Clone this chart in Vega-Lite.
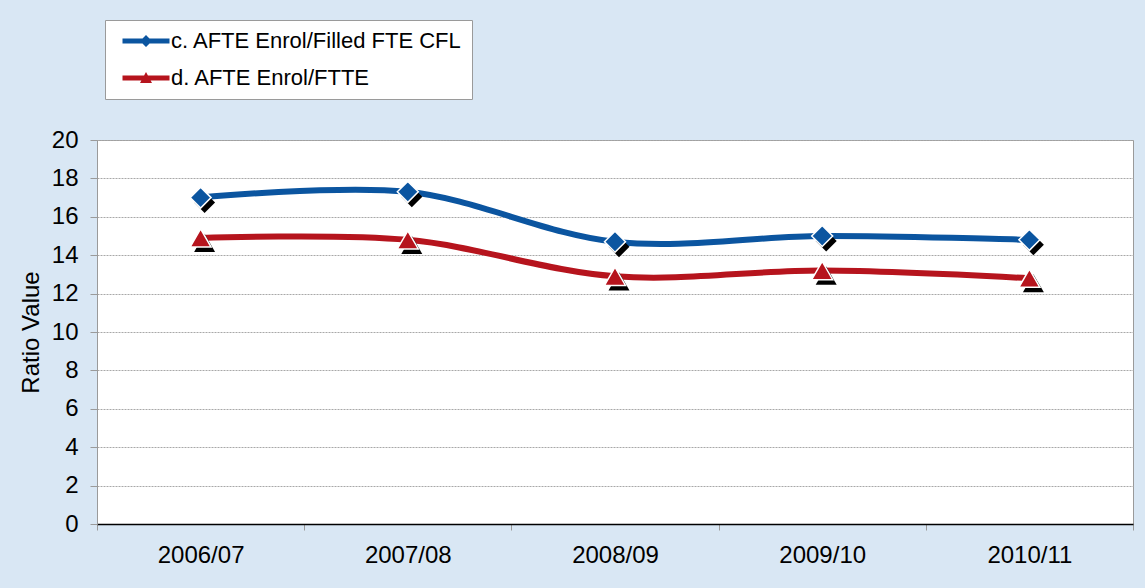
{
  "$schema": "https://vega.github.io/schema/vega-lite/v6.json",
  "autosize": "none",
  "width": 1036,
  "height": 384,
  "padding": {"left": 97, "top": 140, "right": 12, "bottom": 64},
  "background": "#d9e7f4",
  "config": {
    "font": "Liberation Sans",
    "view": {"fill": "white", "stroke": "#9a9a9a", "strokeWidth": 1}
  },
  "data": {
    "values": [
      {"year": "2006/07", "series": "c. AFTE Enrol/Filled FTE CFL", "value": 17.0},
      {"year": "2007/08", "series": "c. AFTE Enrol/Filled FTE CFL", "value": 17.3},
      {"year": "2008/09", "series": "c. AFTE Enrol/Filled FTE CFL", "value": 14.7},
      {"year": "2009/10", "series": "c. AFTE Enrol/Filled FTE CFL", "value": 15.0},
      {"year": "2010/11", "series": "c. AFTE Enrol/Filled FTE CFL", "value": 14.8},
      {"year": "2006/07", "series": "d. AFTE Enrol/FTTE", "value": 14.9},
      {"year": "2007/08", "series": "d. AFTE Enrol/FTTE", "value": 14.8},
      {"year": "2008/09", "series": "d. AFTE Enrol/FTTE", "value": 12.9},
      {"year": "2009/10", "series": "d. AFTE Enrol/FTTE", "value": 13.2},
      {"year": "2010/11", "series": "d. AFTE Enrol/FTTE", "value": 12.8}
    ]
  },
  "encoding": {
    "x": {
      "field": "year", "type": "ordinal",
      "scale": {"type": "band", "paddingInner": 0, "paddingOuter": 0},
      "axis": {
        "title": null, "labelAngle": 0, "labelFontSize": 24, "labelColor": "black",
        "labelPadding": 13, "tickBand": "extent", "tickSize": 6, "tickColor": "#9a9a9a",
        "domainColor": "black", "domainWidth": 1.5, "grid": false
      }
    },
    "y": {
      "field": "value", "type": "quantitative",
      "scale": {"domain": [0, 20], "nice": false},
      "axis": {
        "title": "Ratio Value", "titleFontSize": 24, "titleFontWeight": "normal", "titleColor": "black",
        "titlePadding": 8,
        "values": [0, 2, 4, 6, 8, 10, 12, 14, 16, 18, 20],
        "labelFontSize": 24, "labelColor": "black", "labelPadding": 12,
        "tickSize": 7, "tickColor": "#9a9a9a", "domainColor": "#9a9a9a",
        "grid": true, "gridColor": "#a8a8a8", "gridDash": [2, 1], "gridWidth": 1
      }
    },
    "color": {
      "field": "series", "type": "nominal",
      "scale": {"domain": ["c. AFTE Enrol/Filled FTE CFL", "d. AFTE Enrol/FTTE"], "range": ["#0b55a0", "#b6141d"]},
      "legend": null
    }
  },
  "resolve": {"scale": {"shape": "independent"}},
  "layer": [
    {
      "mark": {"type": "line", "interpolate": "catmull-rom", "strokeWidth": 6}
    },
    {
      "mark": {"type": "point", "filled": true, "opacity": 1, "size": 440, "xOffset": 4, "yOffset": 5},
      "encoding": {
        "color": {"value": "black"},
        "shape": {
          "field": "series", "type": "nominal",
          "scale": {"domain": ["c. AFTE Enrol/Filled FTE CFL", "d. AFTE Enrol/FTTE"], "range": ["diamond", "triangle-up"]},
          "legend": null
        }
      }
    },
    {
      "mark": {"type": "point", "filled": true, "opacity": 1, "size": 440, "stroke": "white", "strokeWidth": 1.5},
      "encoding": {
        "shape": {
          "field": "series", "type": "nominal",
          "scale": {"domain": ["c. AFTE Enrol/Filled FTE CFL", "d. AFTE Enrol/FTTE"], "range": ["diamond", "triangle-up"]},
          "legend": null
        }
      }
    },
    {
      "mark": {"type": "point", "filled": true, "size": 0, "opacity": 1},
      "encoding": {
        "shape": {
          "field": "series", "type": "nominal",
          "scale": {"domain": ["c. AFTE Enrol/Filled FTE CFL", "d. AFTE Enrol/FTTE"], "range": ["M-2.35,-0.25H2.35V0.25H-2.35Z M0,-0.6L0.6,0L0,0.6L-0.6,0Z", "M-2.35,-0.25H2.35V0.25H-2.35Z M0,-0.6L0.6,0.5L-0.6,0.5Z"]},
          "legend": {
            "title": null, "orient": "none", "legendX": 8, "legendY": -120,
            "fillColor": "white", "strokeColor": "#9a9a9a", "padding": 10,
            "labelFontSize": 22, "labelColor": "black", "labelLimit": 500,
            "symbolSize": 400, "symbolOffset": 20, "labelOffset": 14, "rowPadding": 15,
            "symbolStrokeWidth": 0, "symbolOpacity": 1,
            "encoding": {
              "symbols": {
                "fill": {"condition": {"test": "datum.value === 'd. AFTE Enrol/FTTE'", "value": "#b6141d"}, "value": "#0b55a0"},
                "opacity": {"value": 1},
                "fillOpacity": {"value": 1}
              }
            }
          }
        }
      }
    }
  ]
}
